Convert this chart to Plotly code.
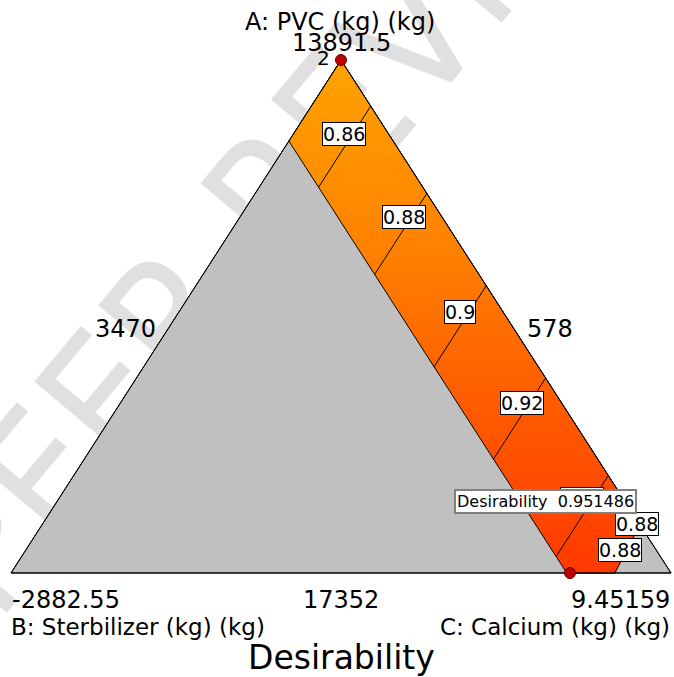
import plotly.graph_objects as go

# ---------------- data (ternary fractions: A = PVC, B = Sterbilizer, C = Calcium)
# feasible (desirable) region boundary
region_a = [1.0, 0.842, 0.0, 0.0, 0.094]
region_b = [0.0, 0.158, 0.158, 0.085, 0.0]
region_c = [0.0, 0.0, 0.842, 0.915, 0.906]

# desirability contour lines (lines of constant C inside the region)
contour_levels = [0.86, 0.88, 0.90, 0.92, 0.94]
contour_c = [0.09, 0.26, 0.44, 0.62, 0.81]
contour_b_max = 0.158

# extra contour labels near the lower-right corner
extra_levels = [0.88, 0.88]

# design points
design_a = [1.0, 0.0]
design_b = [0.0, 0.153]
design_c = [0.0, 0.847]
design_count_label = "2"

optimum_name = "Desirability"
optimum_value = 0.951486

# vertex / axis texts
a_title = "A: PVC (kg) (kg)"
b_title = "B: Sterbilizer (kg) (kg)"
c_title = "C: Calcium (kg) (kg)"
a_high = "13891.5"
b_low = "-2882.55"
c_low = "9.45159"
mid_labels = ["3470", "578", "17352"]   # left, right, bottom
chart_title = "Desirability"
watermark = "PEER REVIEW"

# ---------------- layout helpers
W, H = 674, 677
X0, X1, YB, YT = 11, 671, 573, 60
FONT = "DejaVu Sans, Arial, sans-serif"


def txy(a, b, c):
    return [ci + ai / 2 for ai, ci in zip(a, c)], list(a)


def px(x):
    return x / W


def py(y):
    return 1 - y / H


def dx(x):
    return (x - X0) / (X1 - X0)


def dy(y):
    return (YB - y) / (YB - YT)


fig = go.Figure()

# watermark (drawn below everything)
fig.add_trace(go.Bar(
    x=[dx(295)], y=[dy(170) - dy(180)], base=[dy(180)], width=[dx(21) - dx(11)],
    marker=dict(color="rgba(0,0,0,0)", line=dict(width=0)),
    text=[watermark], textposition="inside", insidetextanchor="middle",
    constraintext="none", textangle=-50, cliponaxis=False,
    insidetextfont=dict(family="Liberation Sans Narrow, DejaVu Sans Condensed, Arial Narrow, sans-serif",
                        size=175, color="#E0E0E0"),
    hoverinfo="skip", showlegend=False))

# whole triangle (infeasible = gray)
tx, ty = txy([1, 0, 0, 1], [0, 1, 0, 0], [0, 0, 1, 0])
fig.add_trace(go.Scatter(x=tx, y=ty, mode="lines", fill="toself", fillcolor="#C0C0C0",
                         line=dict(color="black", width=1), hoverinfo="skip", showlegend=False))

# desirable region with colour gradient
rx, ry = txy(region_a + region_a[:1], region_b + region_b[:1], region_c + region_c[:1])
fig.add_trace(go.Scatter(
    x=rx, y=ry, mode="lines", fill="toself",
    fillgradient=dict(type="vertical",
                      colorscale=[[0, "#FF3A00"], [0.35, "#FF5E00"], [0.65, "#FF8300"], [1, "#FFA300"]]),
    line=dict(color="black", width=1), hoverinfo="skip", showlegend=False))

# contour lines
cx, cy = [], []
for c in contour_c:
    xs, ys = txy([1 - c, 1 - c - contour_b_max], [0, contour_b_max], [c, c])
    cx += xs + [None]
    cy += ys + [None]
fig.add_trace(go.Scatter(x=cx, y=cy, mode="lines", line=dict(color="black", width=1),
                         hoverinfo="skip", showlegend=False))

# triangle outline on top
fig.add_trace(go.Scatter(x=tx, y=ty, mode="lines", line=dict(color="black", width=1),
                         hoverinfo="skip", showlegend=False))

# design points
dxs, dys = txy(design_a, design_b, design_c)
fig.add_trace(go.Scatter(x=dxs, y=dys, mode="markers",
                         marker=dict(size=11, color="#C00000", line=dict(color="#600000", width=1)),
                         cliponaxis=False, hoverinfo="skip", showlegend=False))

ann = []


def label(text, x, y, size=23, xanchor="center", **kw):
    ann.append(dict(text=text, x=px(x), y=py(y), xref="paper", yref="paper", showarrow=False,
                    xanchor=xanchor, yanchor="middle", font=dict(family=FONT, size=size, color="black"),
                    **kw))


label(a_title, 340, 22, size=24)
label(a_high, 341, 43, size=24)
label(design_count_label, 323, 58, size=20)
label(mid_labels[0], 126, 329, size=24)
label(mid_labels[1], 550, 329, size=24)
label(b_low, 10, 600, xanchor="left", size=24)
label(mid_labels[2], 341, 600, size=24)
label(c_low, 672, 600, xanchor="right", size=24)
label(b_title, 9, 627, xanchor="left")
label(c_title, 672, 627, xanchor="right")
label(chart_title, 341, 657, size=33)

box = dict(bgcolor="white", bordercolor="black", borderwidth=1, borderpad=0)
contour_label_pos = [(344, 134), (404, 217), (460, 312), (522, 403), (582, 499)]
for lev, (x, y) in zip(contour_levels, contour_label_pos):
    label(f"{lev:g}", x, y, size=19, **box)
for lev, (x, y) in zip(extra_levels, [(637, 524), (620, 550)]):
    label(f"{lev:g}", x, y, size=19, **box)

label(f"{optimum_name}\u00a0\u00a0{optimum_value:g}", 545, 501, size=16,
      bgcolor="white", bordercolor="#808080", borderwidth=2, borderpad=1)

fig.update_layout(
    width=W, height=H, autosize=False,
    margin=dict(l=0, r=0, t=0, b=0),
    paper_bgcolor="white", plot_bgcolor="white",
    xaxis=dict(range=[dx(0), dx(W)], visible=False, fixedrange=True),
    yaxis=dict(range=[dy(H), dy(0)], visible=False, fixedrange=True),
    annotations=ann,
    shapes=[dict(type="line", xref="paper", yref="paper", x0=px(638), x1=px(638), y0=py(513), y1=py(534),
                 line=dict(color="#808080", width=2))],
    showlegend=False,
)

fig.write_html("out.html", config={"displayModeBar": False},
               post_script="document.body.style.margin='0px';document.body.style.overflow='hidden';")
